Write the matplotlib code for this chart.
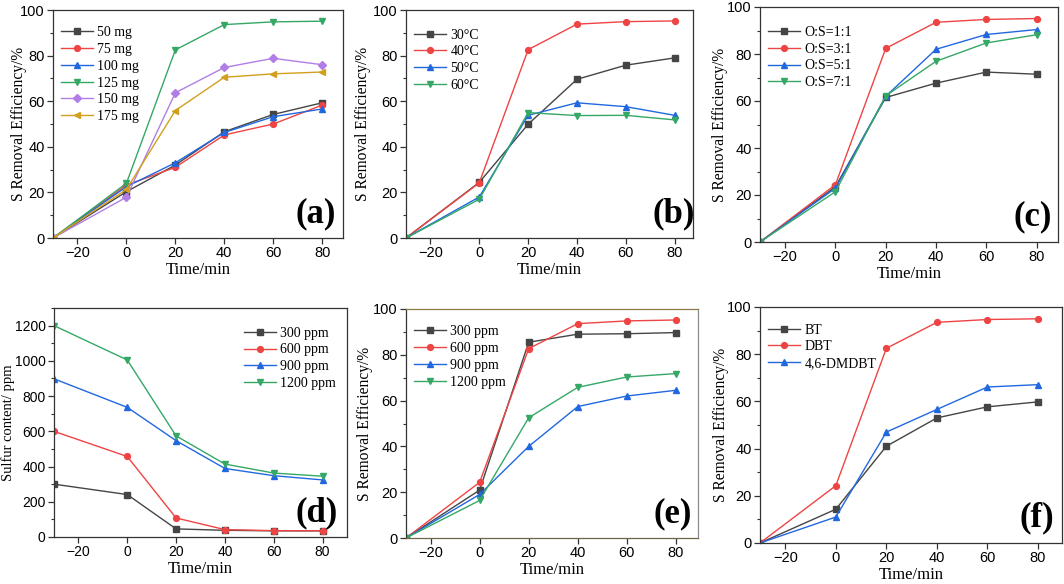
import matplotlib
matplotlib.use("Agg")
import matplotlib.pyplot as plt
from matplotlib.ticker import MultipleLocator

# ---------------- data ----------------
time = [-30, 0, 20, 40, 60, 80]

a_labels = ["50 mg", "75 mg", "100 mg", "125 mg", "150 mg", "175 mg"]
a_50 = [0, 20.3, 32.0, 46.6, 54.2, 59.3]
a_75 = [0, 23.2, 31.0, 45.2, 50.0, 58.3]
a_100 = [0, 22.5, 33.0, 46.3, 53.2, 56.6]
a_125 = [0, 24.0, 82.5, 93.6, 94.8, 95.1]
a_150 = [0, 17.9, 63.7, 74.8, 78.8, 76.0]
a_175 = [0, 21.3, 55.9, 70.5, 72.0, 72.8]

b_labels = ["30\u00b0C", "40\u00b0C", "50\u00b0C", "60\u00b0C"]
b_30 = [0, 24.4, 49.9, 69.6, 75.8, 79.0]
b_40 = [0, 24.2, 82.6, 93.8, 94.9, 95.2]
b_50 = [0, 18.0, 53.8, 59.3, 57.6, 53.8]
b_60 = [0, 17.0, 55.0, 53.7, 53.8, 51.8]

c_labels = ["O:S=1:1", "O:S=3:1", "O:S=5:1", "O:S=7:1"]
c_11 = [0, 23.5, 61.5, 67.6, 72.3, 71.4]
c_31 = [0, 24.4, 82.4, 93.5, 94.7, 95.1]
c_51 = [0, 22.9, 62.0, 82.0, 88.3, 90.4]
c_71 = [0, 21.4, 62.2, 76.9, 84.7, 88.2]

d_labels = ["300 ppm", "600 ppm", "900 ppm", "1200 ppm"]
d_300 = [300, 241, 46, 38, 35, 35]
d_600 = [600, 457, 108, 42, 36, 35]
d_900 = [898, 736, 547, 389, 348, 324]
d_1200 = [1200, 1005, 574, 414, 363, 345]

e_labels = ["300 ppm", "600 ppm", "900 ppm", "1200 ppm"]
e_300 = [0, 20.9, 85.5, 89.0, 89.2, 89.7]
e_600 = [0, 24.3, 82.7, 93.6, 94.8, 95.2]
e_900 = [0, 19.0, 40.0, 57.4, 62.0, 64.5]
e_1200 = [0, 16.4, 52.5, 65.8, 70.3, 71.8]

f_labels = ["BT", "DBT", "4,6-DMDBT"]
f_bt = [0, 14.3, 41.0, 53.0, 57.7, 59.8]
f_dbt = [0, 24.3, 82.5, 93.5, 94.7, 95.0]
f_dm = [0, 11.0, 47.0, 56.6, 66.1, 67.1]

# ---------------- style ----------------
C_BLK = "#454545"
C_RED = "#ef4444"
C_BLU = "#2168e0"
C_GRN = "#35a865"
C_PUR = "#b07ee6"
C_GLD = "#d2a01e"

SERIF = ["Liberation Serif", "DejaVu Serif"]
SANS = ["Liberation Sans", "DejaVu Sans"]

W, H = 1064, 584
fig = plt.figure(figsize=(W / 100, H / 100), dpi=100)


def make_ax(l, r, t, b):
    return fig.add_axes([l / W, 1 - b / H, (r - l) / W, (b - t) / H])


def style(ax, xlim, ylim, ymaj, ymin, ylabel, ylab_x, tag, tagx, leg_loc,
          leg_anchor, tick_size=10.5, ylab_size=11.2):
    ax.set_xlim(*xlim)
    ax.set_ylim(*ylim)
    ax.xaxis.set_major_locator(MultipleLocator(20))
    ax.yaxis.set_major_locator(MultipleLocator(ymaj))
    ax.yaxis.set_minor_locator(MultipleLocator(ymin))
    ax.tick_params(axis="both", which="major", direction="out", length=4,
                   width=0.9, labelsize=tick_size, color="#333333", pad=2)
    ax.tick_params(axis="y", which="minor", direction="out", length=2.2,
                   width=0.8, color="#333333")
    for lab in ax.get_xticklabels() + ax.get_yticklabels():
        lab.set_family(SANS)
    for s in ax.spines.values():
        s.set_linewidth(0.9)
        s.set_color("#333333")
    ax.set_xlabel("Time/min", family=SERIF, fontsize=12, labelpad=1)
    ax.set_ylabel(ylabel, family=SERIF, fontsize=ylab_size)
    ax.yaxis.set_label_coords(ylab_x, 0.5)
    ax.text(tagx, 0.035, tag, transform=ax.transAxes, ha="right", va="bottom",
            family=SERIF, fontsize=25, fontweight="bold")
    leg = ax.legend(loc=leg_loc, bbox_to_anchor=leg_anchor, frameon=False,
                    prop={"family": SERIF, "size": 10}, handlelength=2.3,
                    handletextpad=0.3, labelspacing=0.27, borderaxespad=0.2)
    return leg


def series(ax, ys, labels, colors, markers):
    for y, lab, c, m in zip(ys, labels, colors, markers):
        ms = 3.6 if m == "D" else 4.2
        ax.plot(time, y, color=c, marker=m, markersize=ms, linewidth=1.0,
                label=lab)


# (a)
ax = make_ax(53, 343, 10, 238)
series(ax, [a_50, a_75, a_100, a_125, a_150, a_175], a_labels,
       [C_BLK, C_RED, C_BLU, C_GRN, C_PUR, C_GLD],
       ["s", "o", "^", "v", "D", "<"])
style(ax, (-30, 88.5), (0, 100), 20, 10, "S Removal Efficiency/%", -0.09,
      "(a)", 0.975, "upper left", (0.0, 0.965))

# (b)
ax = make_ax(406, 693, 10, 238)
series(ax, [b_30, b_40, b_50, b_60], b_labels,
       [C_BLK, C_RED, C_BLU, C_GRN], ["s", "o", "^", "v"])
style(ax, (-30, 87.5), (0, 100), 20, 10, "S Removal Efficiency/%", -0.122,
      "(b)", 1.005, "upper left", (0.0, 0.955))

# (c)
ax = make_ax(760, 1058, 7, 242)
series(ax, [c_11, c_31, c_51, c_71], c_labels,
       [C_BLK, C_RED, C_BLU, C_GRN], ["s", "o", "^", "v"])
style(ax, (-30, 88.5), (0, 100), 20, 10, "S Removal Efficiency/%", -0.107,
      "(c)", 0.98, "upper left", (0.0, 0.955))

# (d)
ax = make_ax(54, 347, 308, 537)
series(ax, [d_300, d_600, d_900, d_1200], d_labels,
       [C_BLK, C_RED, C_BLU, C_GRN], ["s", "o", "^", "v"])
style(ax, (-30, 90), (0, 1300), 200, 100, "Sulfur content/ ppm", -0.133,
      "(d)", 0.97, "upper right", (0.99, 0.955), tick_size=10, ylab_size=10.5)

# (e)
ax = make_ax(406, 698, 309, 538)
series(ax, [e_300, e_600, e_900, e_1200], e_labels,
       [C_BLK, C_RED, C_BLU, C_GRN], ["s", "o", "^", "v"])
style(ax, (-30, 89), (0, 100), 20, 10, "S Removal Efficiency/%", -0.113,
      "(e)", 0.98, "upper left", (0.0, 0.965))
ax.spines["top"].set_color("#8a7b47")
ax.spines["bottom"].set_color("#6e6645")
ax.spines["right"].set_color("#8c8c8c")

# (f)
ax = make_ax(760, 1062, 307, 543)
series(ax, [f_bt, f_dbt, f_dm], f_labels,
       [C_BLK, C_RED, C_BLU], ["s", "o", "^"])
style(ax, (-30, 89.5), (0, 100), 20, 10, "S Removal Efficiency/%", -0.103,
      "(f)", 0.975, "upper left", (0.0, 0.965))

fig.savefig("out.png", dpi=100)
